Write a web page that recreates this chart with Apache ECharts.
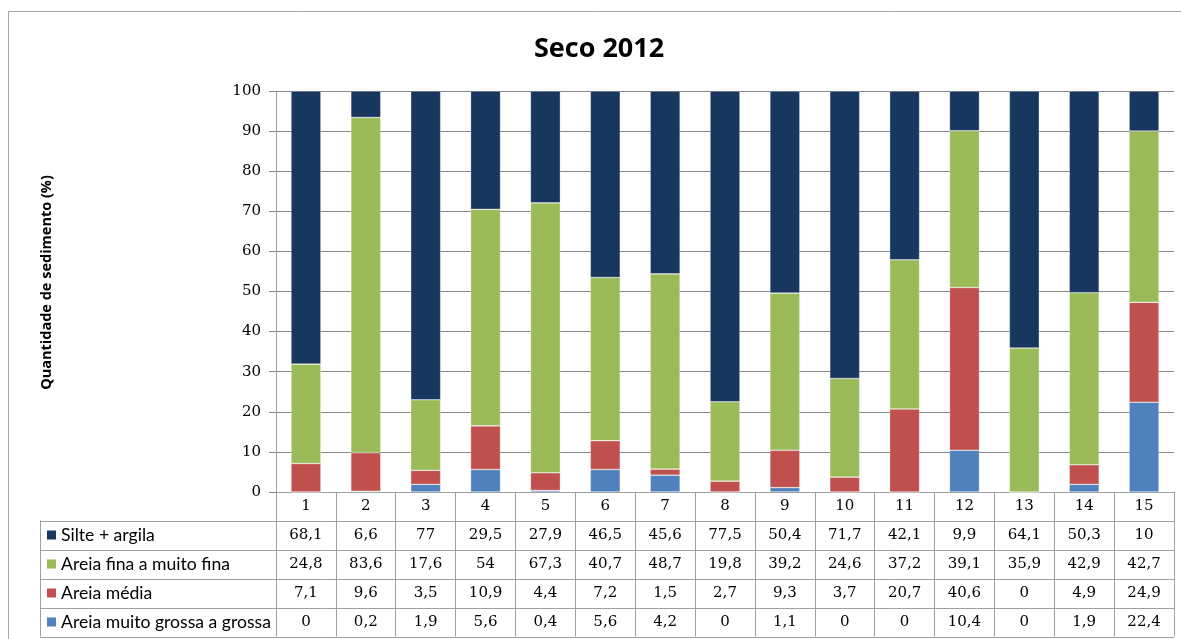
<!DOCTYPE html>
<html>
<head>
<meta charset="utf-8">
<script src="https://cdn.jsdelivr.net/npm/echarts@6/dist/echarts.min.js"></script>
<style>
  html, body { margin: 0; padding: 0; background: #fff; }
  #chart { width: 1181px; height: 639px; }
</style>
</head>
<body>
<div id="chart"></div>
<script>
// Sampling points
var categories = ['1','2','3','4','5','6','7','8','9','10','11','12','13','14','15'];

// Sediment fractions (%) per point
var silteArgila = [68.1, 6.6, 77, 29.5, 27.9, 46.5, 45.6, 77.5, 50.4, 71.7, 42.1, 9.9, 64.1, 50.3, 10];
var areiaFina   = [24.8, 83.6, 17.6, 54, 67.3, 40.7, 48.7, 19.8, 39.2, 24.6, 37.2, 39.1, 35.9, 42.9, 42.7];
var areiaMedia  = [7.1, 9.6, 3.5, 10.9, 4.4, 7.2, 1.5, 2.7, 9.3, 3.7, 20.7, 40.6, 0, 4.9, 24.9];
var areiaGrossa = [0, 0.2, 1.9, 5.6, 0.4, 5.6, 4.2, 0, 1.1, 0, 0, 10.4, 0, 1.9, 22.4];

var seriesNames = ['Silte + argila', 'Areia fina a muito fina', 'Areia média', 'Areia muito grossa a grossa'];
var seriesColors = ['#17375E', '#9BBB59', '#C0504D', '#4F81BD'];
var seriesData = [silteArgila, areiaFina, areiaMedia, areiaGrossa];

var GRID_LEFT = 276, GRID_RIGHT = 7, GRID_TOP = 91, GRID_BOTTOM = 147;
var ROW_H = 29, CAT_ROW_H = 28.5, TABLE_LEFT = 40;
var LINE_COLOR = '#A0A0A0';
var NUM_FONT = 'DejaVu Serif';
var TEXT_FONT = 'Lato';

function fmt(v) { return String(v).replace('.', ','); }

var chart = echarts.init(document.getElementById('chart'));

// Stack from bottom: coarse sand, medium sand, fine sand, silt + clay
var barSeries = [];
for (var s = seriesData.length - 1; s >= 0; s--) {
  barSeries.push({
    name: seriesNames[s],
    type: 'bar',
    stack: 'total',
    data: seriesData[s],
    barCategoryGap: '50%',
    itemStyle: {
      color: seriesColors[s],
      borderColor: 'rgba(255,255,255,0.55)',
      borderWidth: 0.6
    },
    emphasis: { disabled: true }
  });
}

chart.setOption({
  animation: false,
  title: {
    text: 'Seco 2012',
    left: 529,
    top: 31,
    textStyle: { fontFamily: 'Open Sans', fontWeight: 'bold', fontSize: 27, color: '#000' }
  },
  grid: { left: GRID_LEFT, right: GRID_RIGHT, top: GRID_TOP, bottom: GRID_BOTTOM },
  xAxis: {
    type: 'category',
    data: categories,
    axisLine: { lineStyle: { color: LINE_COLOR, width: 1 } },
    axisTick: { show: true, length: CAT_ROW_H + ROW_H * 4, lineStyle: { color: LINE_COLOR } },
    axisLabel: { fontFamily: NUM_FONT, fontSize: 15, color: '#000', margin: 7 }
  },
  yAxis: {
    type: 'value',
    min: 0,
    max: 100,
    interval: 10,
    name: 'Quantidade de sedimento (%)',
    nameLocation: 'middle',
    nameGap: 222,
    nameTextStyle: { fontFamily: 'Open Sans', fontWeight: 'bold', fontSize: 14.5, color: '#000',
      padding: [0, 0, 0, 18] },
    axisLine: { show: true, lineStyle: { color: LINE_COLOR } },
    axisTick: { show: true, length: 7, lineStyle: { color: '#868686' } },
    axisLabel: { fontFamily: NUM_FONT, fontSize: 15, color: '#000', margin: 15 },
    splitLine: { lineStyle: { color: '#868686', width: 1 } }
  },
  series: barSeries
});

// Data table beneath the plot, aligned to the category axis
function buildTable() {
  var x0 = chart.convertToPixel({ xAxisIndex: 0 }, 0);
  var x1 = chart.convertToPixel({ xAxisIndex: 0 }, 1);
  var band = x1 - x0;
  var yBase = chart.convertToPixel({ yAxisIndex: 0 }, 0);
  var plotLeft = x0 - band / 2;
  var plotRight = plotLeft + band * categories.length;
  var tableTop = yBase + CAT_ROW_H;
  var tableBottom = tableTop + ROW_H * seriesData.length;

  var els = [];
  // outer chart frame
  els.push({ type: 'rect', shape: { x: 8.5, y: 11.5, width: 1300, height: 800 },
    style: { fill: null, stroke: '#A6A6A6', lineWidth: 1 }, silent: true });

  // horizontal rules
  for (var r = 0; r <= seriesData.length; r++) {
    var y = Math.round(tableTop + r * ROW_H) + 0.5;
    els.push({ type: 'line', shape: { x1: TABLE_LEFT, y1: y, x2: plotRight, y2: y },
      style: { stroke: LINE_COLOR, lineWidth: 1 }, silent: true });
  }
  // left border of legend column
  els.push({ type: 'line', shape: { x1: TABLE_LEFT + 0.5, y1: tableTop, x2: TABLE_LEFT + 0.5, y2: tableBottom },
    style: { stroke: LINE_COLOR, lineWidth: 1 }, silent: true });

  for (var s = 0; s < seriesData.length; s++) {
    var cy = tableTop + s * ROW_H + ROW_H / 2;
    // legend key
    els.push({ type: 'rect', shape: { x: TABLE_LEFT + 7, y: cy - 4.5, width: 9, height: 9 },
      style: { fill: seriesColors[s] }, silent: true });
    els.push({ type: 'text', x: TABLE_LEFT + 21, y: cy, silent: true,
      style: { text: seriesNames[s], fontFamily: TEXT_FONT, fontSize: 17.6, fill: '#000',
        verticalAlign: 'middle', align: 'left' } });
    for (var i = 0; i < categories.length; i++) {
      els.push({ type: 'text', x: chart.convertToPixel({ xAxisIndex: 0 }, i), y: cy, silent: true,
        style: { text: fmt(seriesData[s][i]), fontFamily: NUM_FONT, fontSize: 15, fill: '#000',
          align: 'center', verticalAlign: 'middle' } });
    }
  }
  chart.setOption({ graphic: { elements: els } });
}
buildTable();
</script>
</body>
</html>
